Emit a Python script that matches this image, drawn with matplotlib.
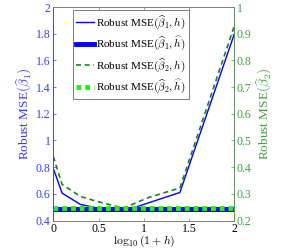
import numpy as np
import matplotlib
matplotlib.use("Agg")
import matplotlib.pyplot as plt

plt.rcParams['font.family'] = ['Liberation Serif', 'DejaVu Serif']
plt.rcParams['mathtext.fontset'] = 'cm'

# smoothing parameter h, plotted as log10(1+h)
h = np.array([0, 0.25, 1, 2, 5, 10, 24, 99])
mse_b1_h = [0.79, 0.605, 0.52, 0.495, 0.47, 0.53, 0.61, 1.80]
mse_b1_hhat = 0.483
mse_b2_h = [0.44, 0.335, 0.29, 0.272, 0.246, 0.285, 0.322, 0.93]
mse_b2_hhat = 0.2475

blue = '#0000ff'
blue_txt = '#3a3aff'
dgreen = '#1f801f'
green_txt = '#3f9f3f'
lgreen = '#22ee22'

x = np.log10(1 + h)

fig = plt.figure(figsize=(2.93, 2.52), dpi=100)
ax1 = fig.add_axes([0.182, 0.125, 0.618, 0.847])
ax2 = ax1.twinx()

l1, = ax1.plot(x, mse_b1_h, color=blue, lw=1.0)
l2, = ax1.plot([0, 2], [mse_b1_hhat] * 2, color=blue, lw=3.5)
l3, = ax2.plot(x, mse_b2_h, color=dgreen, lw=1.2, ls=(0, (3, 2.2)))
l4, = ax2.plot([0, 2], [mse_b2_hhat] * 2, color=lgreen, lw=3.5, ls=(0, (1, 0.8)))

ax1.set_xlim(0, 2)
ax1.set_ylim(0.4, 2)
ax2.set_ylim(0.2, 1)
ax1.set_xticks([0, 0.5, 1, 1.5, 2])
ax1.set_xticklabels(['0', '0.5', '1', '1.5', '2'])
ax1.set_yticks([0.4, 0.6, 0.8, 1, 1.2, 1.4, 1.6, 1.8, 2])
ax1.set_yticklabels(['0.4', '0.6', '0.8', '1', '1.2', '1.4', '1.6', '1.8', '2'])
ax2.set_yticks([0.2, 0.3, 0.4, 0.5, 0.6, 0.7, 0.8, 0.9, 1])
ax2.set_yticklabels(['0.2', '0.3', '0.4', '0.5', '0.6', '0.7', '0.8', '0.9', '1'])

ax1.tick_params(axis='x', direction='in', length=2.5, width=0.5, labelsize=8.5,
                colors='0.5', labelcolor='black', pad=2, top=True)
ax1.tick_params(axis='y', direction='in', length=2.5, width=0.5, labelsize=8.5,
                colors=blue_txt, pad=2)
ax2.tick_params(axis='y', direction='in', length=2.5, width=0.5, labelsize=8.5,
                colors=green_txt, pad=1.5)

for a in (ax1, ax2):
    for s in a.spines.values():
        s.set_linewidth(0.6)
        s.set_color('0.5')
ax2.spines['left'].set_color(blue_txt)
ax2.spines['right'].set_color(green_txt)

ax1.set_xlabel(r'$\log_{10}(1+h)$', fontsize=8.5, labelpad=-1)
ax1.set_ylabel(r'Robust MSE$(\widehat{\beta}_1)$', fontsize=9.5,
               color=blue_txt, labelpad=1)
ax2.set_ylabel(r'Robust MSE$(\widehat{\beta}_2)$', fontsize=9.5,
               color=green_txt, labelpad=2)

labels = [r'Robust MSE$(\widehat{\beta}_1,h)$',
          r'Robust MSE$(\widehat{\beta}_1,\widehat{h})$',
          r'Robust MSE$(\widehat{\beta}_2,h)$',
          r'Robust MSE$(\widehat{\beta}_2,\widehat{h})$']
leg = ax2.legend([l1, l2, l3, l4], labels, loc='upper left',
                 bbox_to_anchor=(0.107, 0.986), borderaxespad=0, fontsize=8,
                 fancybox=False, framealpha=1, edgecolor='0.4',
                 handlelength=1.6, handletextpad=0.2, labelspacing=0.3,
                 borderpad=0.3)
leg.get_frame().set_linewidth(0.6)

fig.savefig('out.png', dpi=100)
